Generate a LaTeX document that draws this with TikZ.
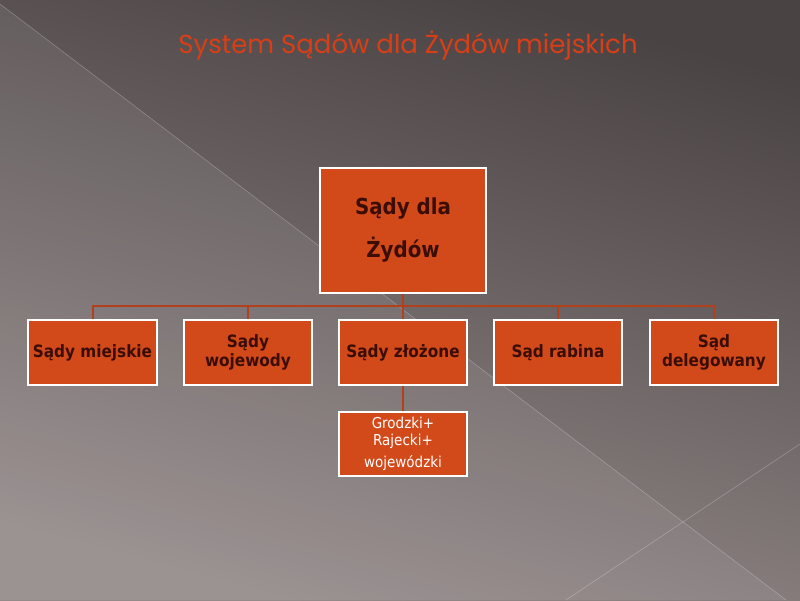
\documentclass[tikz,border=0pt]{standalone}
\usepackage{fontspec}
\setmainfont{DejaVu Sans}
\newfontfamily\titlefont{Poppins}
\newfontfamily\boxfont{DejaVu Sans Condensed}
\begin{document}
\begin{tikzpicture}[x=1pt,y=-1pt,
  box/.style={draw=white,line width=1.6pt,fill=boxc,text=txtc,font=\boxfont\bfseries\fontsize{17}{19}\selectfont,align=center,inner sep=0pt},
  link/.style={draw=linkc,line width=2pt}]
\definecolor{boxc}{HTML}{D2491A}
\definecolor{txtc}{HTML}{3A0E06}
\definecolor{linkc}{HTML}{B3401C}
\definecolor{bgdark}{HTML}{4A4343}
\definecolor{bglight}{HTML}{948A8A}
\useasboundingbox (0,0) rectangle (800,600);
\shade[bottom color=bglight,top color=bgdark,shading angle=-15] (0,0) rectangle (800,600);
\fill[white,opacity=0.07] (0,4) -- (786,600) -- (0,600) -- cycle;
\draw[white,opacity=0.25,line width=0.6pt] (0,4) -- (786,600);
\draw[white,opacity=0.25,line width=0.6pt] (800,444) -- (566,600);
\node[text=boxc!85!red,font=\titlefont\fontsize{26}{30}\selectfont] (title) at (408,46) {System Sądów dla Żydów miejskich};
\node[box,minimum width=166pt,minimum height=125pt,font=\boxfont\bfseries\fontsize{22}{43}\selectfont] (root) at (403,230.5) {Sądy dla\\Żydów};
\node[box,minimum width=129pt,minimum height=65pt] (a) at (92.5,352.5) {Sądy miejskie};
\node[box,minimum width=128pt,minimum height=65pt] (b) at (248,352.5) {Sądy\\wojewody};
\node[box,minimum width=128pt,minimum height=65pt] (c) at (403,352.5) {Sądy złożone};
\node[box,minimum width=128pt,minimum height=65pt] (d) at (558,352.5) {Sąd rabina};
\node[box,minimum width=128pt,minimum height=65pt] (e) at (714,352.5) {Sąd\\delegowany};
\node[box,minimum width=128pt,minimum height=64pt,text=white,font=\boxfont\fontsize{15}{17}\selectfont] (f) at (403,444) {Grodzki+\\Rajecki+\\[5pt]wojewódzki};
\coordinate (bus) at (403,306);
\draw[link] (root.south) -- (bus);
\foreach \n in {a,b,c,d,e} \draw[link] (\n.north) |- (bus);
\draw[link] (c.south) -- (f.north);
\end{tikzpicture}
\end{document}
